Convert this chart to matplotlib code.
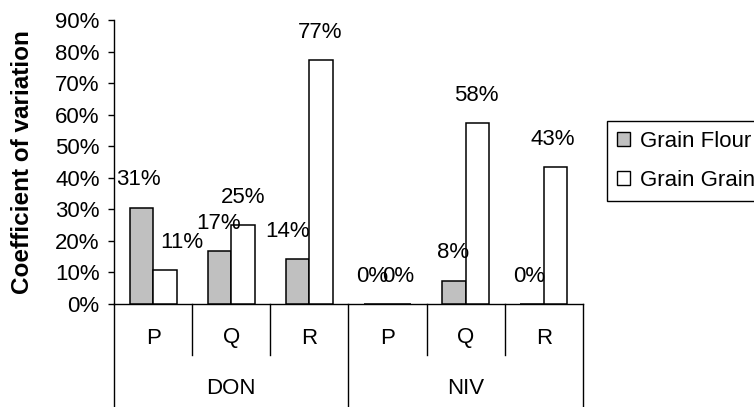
import matplotlib
matplotlib.use('Agg')
import matplotlib.pyplot as plt
import numpy as np
from matplotlib.transforms import blended_transform_factory
from matplotlib.patches import Patch

plt.rcParams['font.family'] = ['Liberation Sans', 'DejaVu Sans']

# ---- data ----
groups = ['DON', 'NIV']
subcats = ['P', 'Q', 'R']
series_names = ['Grain Flour', 'Grain Grain']
flour = [0.305, 0.168, 0.142, 0.0, 0.074, 0.0]
grain = [0.108, 0.250, 0.772, 0.0, 0.574, 0.434]
flour_labels = ['31%', '17%', '14%', '0%', '8%', '0%']
grain_labels = ['11%', '25%', '77%', '0%', '58%', '43%']
yticks = [0.0, 0.1, 0.2, 0.3, 0.4, 0.5, 0.6, 0.7, 0.8, 0.9]
ytick_labels = ['0%', '10%', '20%', '30%', '40%', '50%', '60%', '70%', '80%', '90%']

# label nudges (points), mimicking the reference placement
flour_dx = [-2, -1, -7, -3, -1, -2]
grain_dx = [12, 0, -1, -1, -1, -2]

FS = 16
W, H = 754, 407
fig = plt.figure(figsize=(W / 100, H / 100), dpi=100)
ax_l, ax_r, ax_t, ax_b = 114, 583, 20, 304
ax = fig.add_axes([ax_l / W, 1 - ax_b / H, (ax_r - ax_l) / W, (ax_b - ax_t) / H])
ax_h = ax_b - ax_t

n = len(flour)
x = np.arange(n)
bw = 0.3
gray = '#C0C0C0'
ax.bar(x - bw / 2, flour, bw, color=gray, edgecolor='black', linewidth=1.1, zorder=3)
ax.bar(x + bw / 2, grain, bw, color='white', edgecolor='black', linewidth=1.1, zorder=3)

for i in range(n):
    ax.annotate(flour_labels[i], (x[i] - bw / 2, flour[i]), xytext=(flour_dx[i], 20),
                textcoords='offset points', ha='center', va='center', fontsize=FS, zorder=4)
    ax.annotate(grain_labels[i], (x[i] + bw / 2, grain[i]), xytext=(grain_dx[i], 20),
                textcoords='offset points', ha='center', va='center', fontsize=FS, zorder=4)

ax.set_xlim(-0.5, n - 0.5)
ax.set_ylim(0, 0.9)
ax.set_yticks(yticks)
ax.set_yticklabels(ytick_labels)
ax.set_xticks([])
ax.tick_params(axis='y', direction='out', length=4.3, width=1, labelsize=FS, pad=6, colors='black')
for s in ['top', 'right']:
    ax.spines[s].set_visible(False)
for s in ['left', 'bottom']:
    ax.spines[s].set_color('black')
    ax.spines[s].set_linewidth(1.0)

# multi-level category axis
trans = blended_transform_factory(ax.transData, ax.transAxes)
for b in np.arange(-0.5, n, 1.0):
    if abs((b + 0.5) % 3) < 1e-9:
        y1 = -(H - ax_b) / ax_h
    else:
        y1 = -51 / ax_h
    ax.plot([b, b], [0, y1], color='black', lw=1.0, transform=trans, clip_on=False)
for i in range(n):
    ax.text(x[i], -34 / ax_h, subcats[i % 3], transform=trans, ha='center', va='center', fontsize=FS)
for g, name in enumerate(groups):
    ax.text(g * 3 + 1, -84 / ax_h, name, transform=trans, ha='center', va='center', fontsize=FS)

ax.set_ylabel('Coefficient of variation', fontsize=17.5, fontweight='bold')
ax.yaxis.set_label_coords(-(ax_l - 23) / (ax_r - ax_l), 0.5)
ax.yaxis.label.set_verticalalignment('center')

handles = [Patch(facecolor=gray, edgecolor='black', linewidth=1.0),
           Patch(facecolor='white', edgecolor='black', linewidth=1.0)]
leg = fig.legend(handles, series_names, loc='upper left',
                 bbox_to_anchor=(607 / W, 1 - 121 / H), bbox_transform=fig.transFigure,
                 frameon=True, fancybox=False, edgecolor='black', framealpha=1,
                 borderaxespad=0, borderpad=0.45, labelspacing=0.8,
                 handlelength=0.6, handleheight=0.6, handletextpad=0.45, fontsize=FS)
leg.get_frame().set_linewidth(1.0)

fig.savefig('out.png', dpi=100)
